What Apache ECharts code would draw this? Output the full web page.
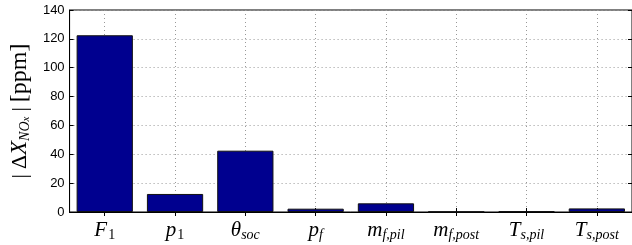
<!DOCTYPE html>
<html>
<head>
<meta charset="utf-8">
<script src="https://cdn.jsdelivr.net/npm/echarts@6/dist/echarts.min.js"></script>
<style>
  html, body { margin: 0; padding: 0; background: #fff; }
  #chart { width: 632px; height: 245px; }
</style>
</head>
<body>
<div id="chart"></div>
<script>
// categories as rich-text pieces: [main, subscript]
const categories = [
  ['F', '1'], ['p', '1'], ['θ', 'soc'], ['p', 'f'],
  ['m', 'f,pil'], ['m', 'f,post'], ['T', 's,pil'], ['T', 's,post']
];
const values = [122.5, 12.5, 42.5, 2.3, 6.0, 0.2, 0.5, 2.5];
const yTicks = { min: 0, max: 140, step: 20 };

const chart = echarts.init(document.getElementById('chart'));
const catNames = categories.map(c => c[0] + '_' + c[1]);

const serif = '"Liberation Serif", "DejaVu Serif", serif';
const sans = '"Liberation Sans", Arial, sans-serif';

chart.setOption({
  animation: false,
  grid: {
    left: 63, right: -3, top: 10, bottom: 33,
    show: true, borderColor: '#000', borderWidth: 1
  },
  xAxis: [{
    type: 'category',
    data: catNames,
    boundaryGap: true,
    axisLine: { lineStyle: { color: '#000', width: 1 } },
    axisTick: { show: true, inside: true, alignWithLabel: true, interval: 0, length: 4, lineStyle: { color: '#000' } },
    splitLine: { show: true, alignWithLabel: true, interval: 0, lineStyle: { color: '#999', type: [1, 3] } },
    axisLabel: {
      margin: 6,
      interval: 0,
      formatter: function (v) {
        const p = v.split('_');
        const subStyle = /^\d+$/.test(p[1]) ? 'd' : 's';
        return '{m|' + p[0] + '}{' + subStyle + '|' + p[1] + '}';
      },
      rich: {
        m: { fontFamily: serif, fontStyle: 'italic', fontSize: 21, color: '#000', lineHeight: 24 },
        s: { fontFamily: serif, fontStyle: 'italic', fontSize: 14, color: '#000', verticalAlign: 'bottom', lineHeight: 14, padding: [8, 0, 0, 0] },
        d: { fontFamily: serif, fontSize: 14, color: '#000', verticalAlign: 'bottom', lineHeight: 14, padding: [8, 0, 0, 1] }
      }
    }
  }, {
    type: 'category',
    data: catNames,
    position: 'top',
    boundaryGap: true,
    axisLine: { show: true, lineStyle: { color: '#000' } },
    axisTick: { show: true, inside: true, alignWithLabel: true, interval: 0, length: 4, lineStyle: { color: '#000' } },
    axisLabel: { show: false }
  }],
  yAxis: [{
    type: 'value',
    min: yTicks.min, max: yTicks.max, interval: yTicks.step,
    axisLine: { show: true, lineStyle: { color: '#000' } },
    axisTick: { show: true, inside: true, length: 4, lineStyle: { color: '#000' } },
    splitLine: { show: true, lineStyle: { color: '#999', type: [1, 3] } },
    axisLabel: { fontFamily: sans, fontSize: 13, color: '#000', margin: 5 },
    name: '{t||}{g|}{t|Δ}{x|X}{s|NO}{ss|x}{g|}{t||}{g|}{u|[ppm]}',
    nameLocation: 'middle',
    nameRotate: 90,
    nameGap: 33,
    nameTextStyle: {
      rich: {
        t: { fontFamily: serif, fontSize: 22, color: '#000', lineHeight: 24 },
        u: { fontFamily: serif, fontSize: 24, color: '#000', lineHeight: 24 },
        g: { width: 5, lineHeight: 24 },
        x: { fontFamily: serif, fontStyle: 'italic', fontSize: 23, color: '#000', lineHeight: 24 },
        s: { fontFamily: serif, fontStyle: 'italic', fontSize: 14, color: '#000', verticalAlign: 'bottom', lineHeight: 14, padding: [6, 0, 0, 0] },
        ss: { fontFamily: serif, fontStyle: 'italic', fontSize: 11, color: '#000', verticalAlign: 'bottom', lineHeight: 11, padding: [10, 0, 0, 0] }
      }
    }
  }, {
    type: 'value',
    position: 'right',
    min: yTicks.min, max: yTicks.max, interval: yTicks.step,
    axisLine: { show: true, lineStyle: { color: '#000' } },
    axisTick: { show: true, inside: true, length: 4, lineStyle: { color: '#000' } },
    splitLine: { show: false },
    axisLabel: { show: false }
  }],
  series: [{
    type: 'bar',
    data: values,
    barWidth: '80%',
    itemStyle: { color: '#00008F', borderColor: '#111', borderWidth: 1 }
  }]
});
</script>
</body>
</html>
